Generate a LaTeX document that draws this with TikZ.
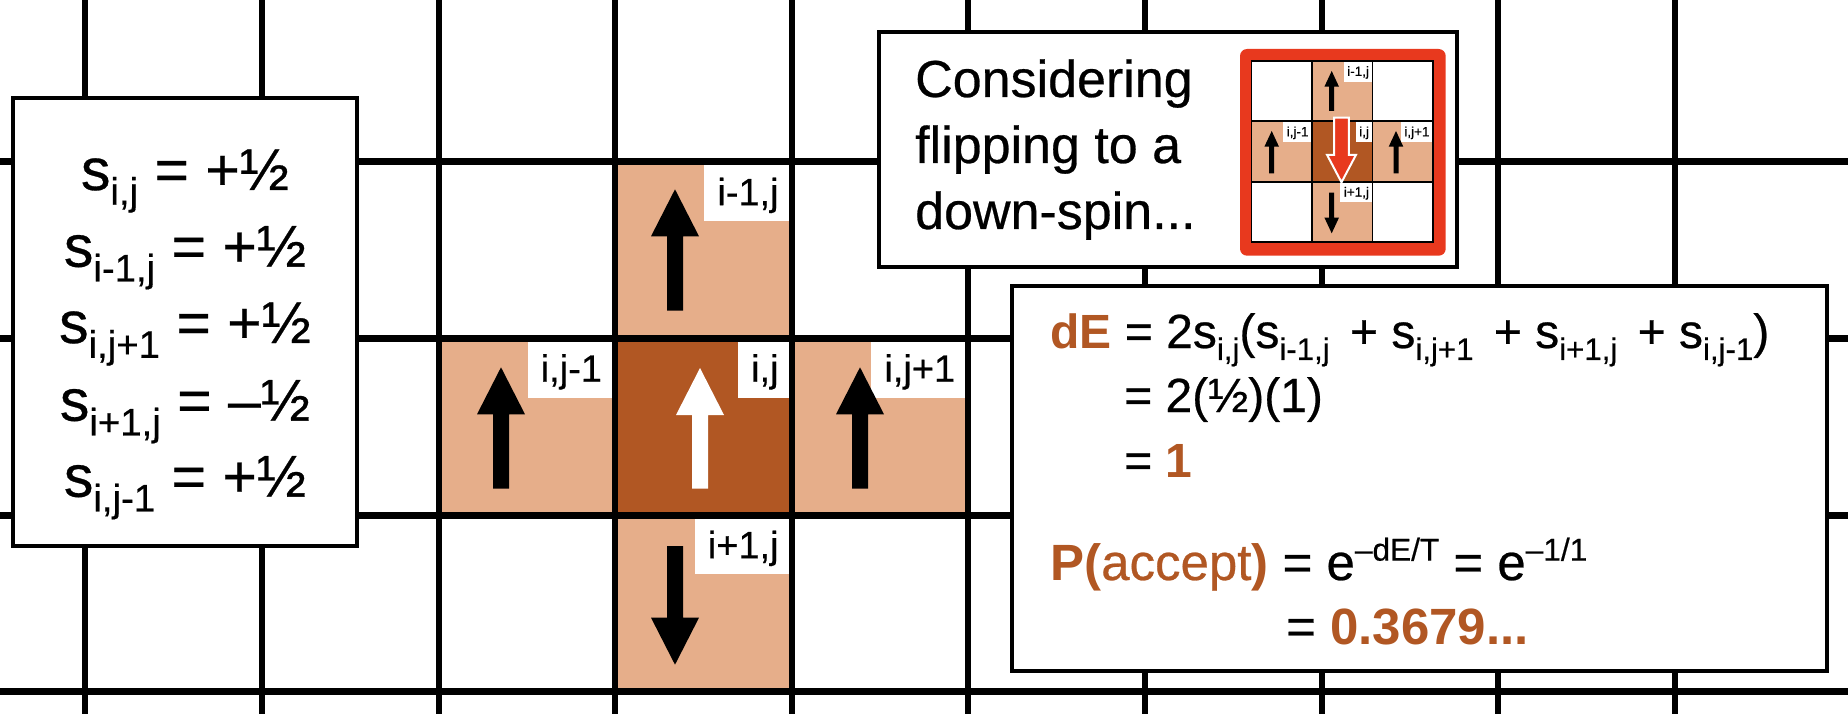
\documentclass[tikz,border=0pt]{standalone}
\usepackage{fontspec}
\setmainfont{Liberation Sans}[UprightFeatures={FakeBold=0.5}]
\usepackage{graphicx}
\definecolor{lightor}{RGB}{230,174,138}
\definecolor{darkbr}{RGB}{177,87,35}
\definecolor{insetred}{RGB}{232,57,30}
\newcommand\fsz[1]{\fontsize{#1}{#1}\selectfont}
\newcommand\sbs[1]{\raisebox{-0.25em}{\scalebox{0.65}{#1}}}
\newcommand\sps[1]{\raisebox{0.38em}{\scalebox{0.62}{#1}}}
% x, tip y, tail y, head length, head half width, shaft half width, style
\newcommand\blockarr[7]{\path[#7] ({#1},{#2}) -- ({#1+#5},{#2+#4*sign(#3-#2)}) -- ({#1+#6},{#2+#4*sign(#3-#2)}) -- ({#1+#6},{#3}) -- ({#1-#6},{#3}) -- ({#1-#6},{#2+#4*sign(#3-#2)}) -- ({#1-#5},{#2+#4*sign(#3-#2)}) -- cycle;}
\tikzset{
  gridv/.style={line width=6pt},
  gridh/.style={line width=7pt},
  lbl/.style={fill=white, anchor=north east, inner xsep=13pt, inner ysep=0pt,
    minimum height=59pt, text height=31pt, text depth=4pt, font=\fsz{38pt}},
  smlbl/.style={fill=white, anchor=north east, inner xsep=3.5pt, inner ysep=0pt,
    minimum height=20.5pt, text height=11pt, text depth=2pt, font=\fsz{13.5pt}},
  txtbox/.style={draw=black, fill=white, line width=3.5pt},
  txt/.style={inner sep=0pt},
}
\begin{document}
\begin{tikzpicture}[x=1pt,y=-1pt]
\useasboundingbox (0,0) rectangle (1848,714);
\clip (0,0) rectangle (1848,714);
\fill[white] (0,0) rectangle (1848,714);
% shaded cells
\fill[lightor] (615.2,162) rectangle (791.8,338.5);
\fill[lightor] (438.6,338.5) rectangle (615.2,515);
\fill[darkbr] (615.2,338.5) rectangle (791.8,515);
\fill[lightor] (791.8,338.5) rectangle (968.4,515);
\fill[lightor] (615.2,515) rectangle (791.8,691.5);
% cell labels
\node[lbl] (labup) at (791.8,162) {i-1,j};
\node[lbl] (lableft) at (615.2,338.5) {i,j-1};
\node[lbl] (labc) at (791.8,338.5) {i,j};
\node[lbl] (labright) at (968.4,338.5) {i,j+1};
\node[lbl] (labdown) at (791.8,515) {i+1,j};
% grid
\foreach \k in {0,...,9} \draw[gridv] ({85.4+176.6*\k},0) -- ({85.4+176.6*\k},714);
\foreach \k in {0,...,3} \draw[gridh] (0,{162+176.5*\k}) -- (1848,{162+176.5*\k});
% spin arrows
\blockarr{675}{189.3}{310.7}{47}{24}{8}{fill=black}
\blockarr{501}{367.3}{488.7}{47}{24}{8}{fill=black}
\blockarr{700}{368}{488.7}{47}{24}{8}{fill=white}
\blockarr{860}{367.3}{488.7}{47}{24}{8}{fill=black}
\blockarr{675}{664.7}{546}{47}{24}{8}{fill=black}
% left box
\draw[txtbox] (13,98) rectangle (357,546);
\node[txt, anchor=base, font=\fsz{59pt}] (s1) at (185,190) {s\sbs{i,j} = +½};
\node[txt, anchor=base, font=\fsz{59pt}] (s2) at (185,266.7) {s\sbs{i-1,j} = +½};
\node[txt, anchor=base, font=\fsz{59pt}] (s3) at (185,343) {s\sbs{i,j+1} = +½};
\node[txt, anchor=base, font=\fsz{59pt}] (s4) at (185,420.7) {s\sbs{i+1,j} = –½};
\node[txt, anchor=base, font=\fsz{59pt}] (s5) at (185,496.7) {s\sbs{i,j-1} = +½};
% considering box
\draw[txtbox] (879,32) rectangle (1457,267);
\node[txt, anchor=base west, font=\fsz{52pt}] (c1) at (915,97) {Considering};
\node[txt, anchor=base west, font=\fsz{52pt}] (c2) at (915,163) {flipping to a};
\node[txt, anchor=base west, font=\fsz{52pt}] (c3) at (915,229) {down-spin...};
% inset
\fill[insetred, rounded corners=7pt] (1240,49) rectangle (1445.7,255.7);
\fill[white] (1251.7,61) rectangle (1433.2,242.2);
\fill[lightor] (1312.2,61) rectangle (1372.7,121.4);
\fill[lightor] (1251.7,121.4) rectangle (1312.2,181.8);
\fill[darkbr] (1312.2,121.4) rectangle (1372.7,181.8);
\fill[lightor] (1372.7,121.4) rectangle (1433.2,181.8);
\fill[lightor] (1312.2,181.8) rectangle (1372.7,242.2);
\node[smlbl] (ilabup) at (1372.7,61) {i-1,j};
\node[smlbl] (ilableft) at (1312.2,121.4) {i,j-1};
\node[smlbl] (ilabc) at (1372.7,121.4) {i,j};
\node[smlbl] (ilabright) at (1433.2,121.4) {i,j+1};
\node[smlbl] (ilabdown) at (1372.7,181.8) {i+1,j};
\draw[line width=1.5pt] (1312.2,61) -- (1312.2,242.2) (1372.7,61) -- (1372.7,242.2);
\draw[line width=2pt] (1251.7,121.4) -- (1433.2,121.4) (1251.7,181.8) -- (1433.2,181.8);
\draw[line width=1.5pt] (1251.7,61) rectangle (1433.2,242.2);
\blockarr{1331.7}{71}{111}{15.7}{7.3}{2.5}{fill=black}
\blockarr{1271.7}{131}{173.3}{15.7}{7.3}{2.5}{fill=black}
\blockarr{1396}{131}{173.3}{15.7}{7.3}{2.5}{fill=black}
\blockarr{1331.7}{233.3}{192.7}{15.7}{7.3}{2.5}{fill=black}
\blockarr{1341.5}{182.3}{117.7}{27.5}{14.5}{7.3}{fill=insetred, draw=white, line width=2pt, line join=miter}
% dE box
\draw[txtbox] (1012,286) rectangle (1827,671);
\node[txt, anchor=base west, font=\fsz{48pt}] (de1) at (1050,348)
  {\textcolor{darkbr}{\textbf{dE}} = 2s\sbs{i,j}(s\sbs{i-1,j}\hspace{7pt} + s\sbs{i,j+1}\hspace{7pt} + s\sbs{i+1,j}\hspace{7pt} + s\sbs{i,j-1})};
\node[txt, anchor=base west, font=\fsz{48pt}] (de2) at (1124,412) {= 2(½)(1)};
\node[txt, anchor=base west, font=\fsz{48pt}] (de3) at (1124,477) {= \textcolor{darkbr}{\textbf{1}}};
\node[txt, anchor=base west, font=\fsz{51pt}] (pa1) at (1050,580)
  {\textcolor{darkbr}{\textbf{P(}accept\textbf{)}} = e\sps{–dE/T} = e\sps{–1/1}};
\node[txt, anchor=base west, font=\fsz{51pt}] (pa2) at (1286,644) {= \textcolor{darkbr}{\textbf{0.3679...}}};
\end{tikzpicture}
\end{document}
